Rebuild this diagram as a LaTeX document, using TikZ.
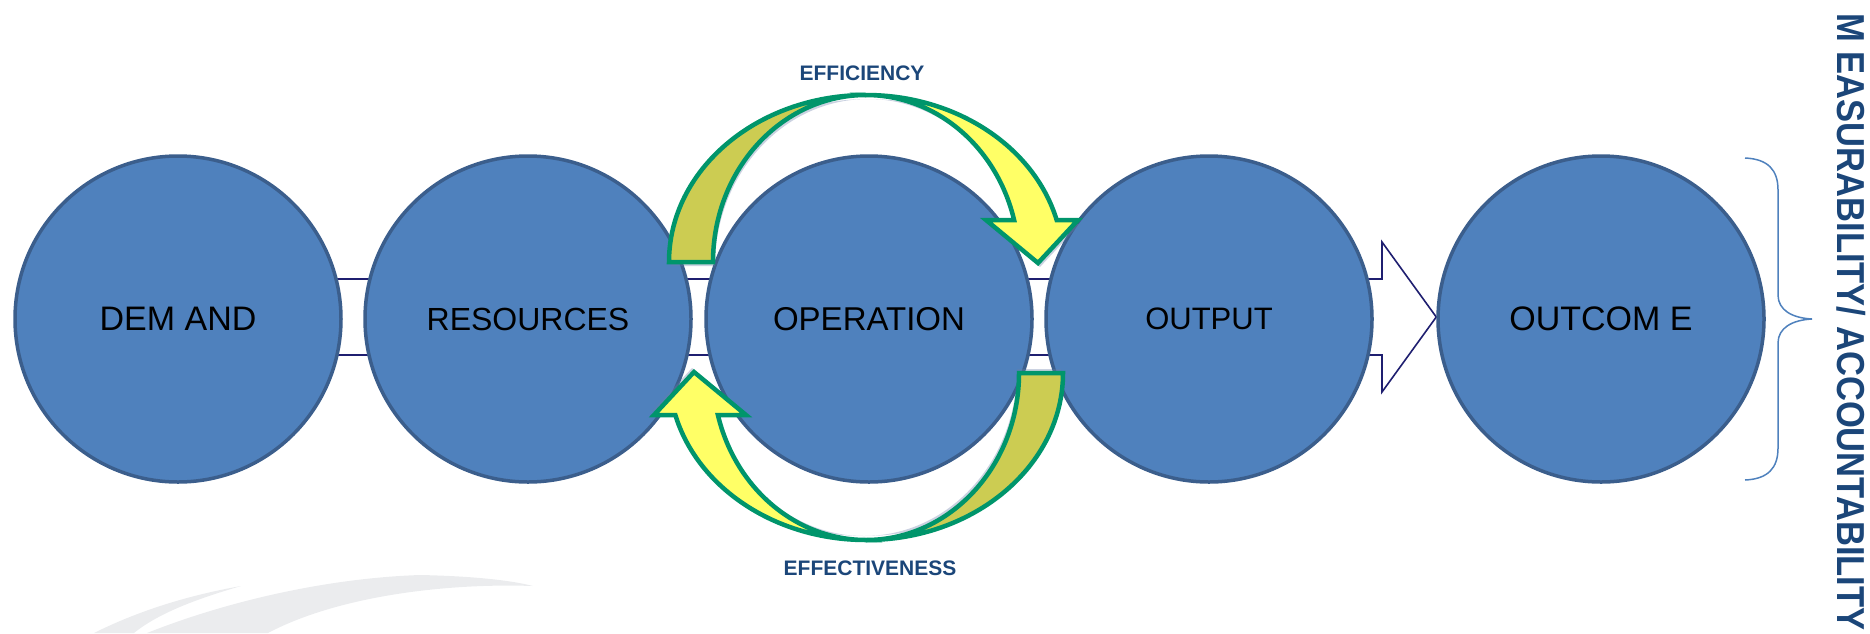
\documentclass[tikz,border=0pt]{standalone}
\usepackage{fontspec}
\usepackage{graphicx}
\setmainfont{Liberation Sans}
\usetikzlibrary{calc,backgrounds}
\definecolor{cfill}{HTML}{4F81BD}
\definecolor{cline}{HTML}{3B5E8C}
\definecolor{navy}{HTML}{1F1F70}
\definecolor{agreen}{HTML}{00956B}
\definecolor{ayellow}{HTML}{FFFF66}
\definecolor{aolive}{HTML}{CCCC52}
\definecolor{lblue}{HTML}{1B4679}
\definecolor{swoosh}{HTML}{EBECEE}
\definecolor{bracec}{HTML}{4F81BD}
\definecolor{shadowc}{HTML}{6A7FA8}
\begin{document}
\begin{tikzpicture}[x=1pt,y=-1pt,
  circ/.style={circle, draw=cline, line width=3.5pt, fill=cfill, minimum size=326pt, inner sep=0pt, text=black},
  band/.style={draw=agreen, line width=4.5pt, line join=miter},
  shade/.style={fill=shadowc, opacity=0.35},
  lbl/.style={font=\bfseries\fontsize{21}{24}\selectfont, text=lblue, inner sep=0pt},
  blockarrow/.style={draw=navy, line width=1.6pt, fill=white, line join=miter}]
\useasboundingbox (0,0) rectangle (1870,633);
% circles
\node[circ, font=\fontsize{34}{40}\selectfont] (demand) at (178,319) {DEM AND};
\node[circ, font=\fontsize{32}{40}\selectfont] (resources) at (528,319) {RESOURCES};
\node[circ, font=\fontsize{33}{40}\selectfont] (operation) at (869,319) {OPERATION};
\node[circ, font=\fontsize{31}{40}\selectfont] (output) at (1209,319) {OUTPUT};
\node[circ, font=\fontsize{34}{40}\selectfont] (outcome) at (1601,319) {OUTCOM E};
% background: swoosh and block arrow behind circles
\begin{scope}[on background layer]
\fill[swoosh] (147,633) .. controls (230,600) and (330,578) .. (420,575) .. controls (470,576) and (510,580) .. (533,586) .. controls (450,583) and (340,595) .. (268,633) -- cycle;
\fill[swoosh] (94,633) .. controls (140,610) and (190,595) .. (241,586) .. controls (200,598) and (160,612) .. (134,633) -- cycle;
\draw[blockarrow] (demand.center |- 0,279) -- (1382,279) -- (1382,242) -- (outcome.west |- 0,317) -- (1382,392) -- (1382,355) -- (demand.center |- 0,355) -- cycle;
\end{scope}
% curved arrows (top one, and bottom one as its half-turn copy)
\foreach \rot in {0,180}{
\begin{scope}[rotate around={\rot:(866,317.5)}]
  \begin{scope}[shift={(2,4)}]
    \fill[shade] (669,262) arc[start angle=180, end angle=270, x radius=197, y radius=167] arc[start angle=270, end angle=180, x radius=153, y radius=167] -- cycle;
    \fill[shade] (866,95) arc[start angle=270, end angle=345.43, x radius=197, y radius=167] -- (1078,220) -- (1038,263) -- (986,220) -- (1014.1,220) arc[start angle=345.43, end angle=270, x radius=153, y radius=167] -- cycle;
  \end{scope}
  \path[band, fill=aolive] (669,262) arc[start angle=180, end angle=270, x radius=197, y radius=167] arc[start angle=270, end angle=180, x radius=153, y radius=167] -- cycle;
  \path[band, fill=ayellow] (866,95) arc[start angle=270, end angle=345.43, x radius=197, y radius=167] -- (1078,220) -- (1038,263) -- (986,220) -- (1014.1,220) arc[start angle=345.43, end angle=270, x radius=153, y radius=167] -- cycle;
\end{scope}
}
% labels
\node[lbl] (efficiency) at (862,73) {EFFICIENCY};
\node[lbl] (effectiveness) at (870,568) {EFFECTIVENESS};
% brace
\draw[bracec, line width=1.5pt] (1745,158) .. controls (1768,159) and (1778,170) .. (1778,190) -- (1778,295) .. controls (1778,310) and (1792,318) .. (1812,319) .. controls (1792,320) and (1778,328) .. (1778,343) -- (1778,448) .. controls (1778,468) and (1768,479) .. (1745,480);
% vertical text
\node[rotate=-90, inner sep=0pt, text=lblue, font=\bfseries\fontsize{39}{40}\selectfont] (measure) at (1851,322) {\scalebox{0.886}[1]{M EASURABILITY/ ACCOUNTABILITY}};
\end{tikzpicture}
\end{document}
